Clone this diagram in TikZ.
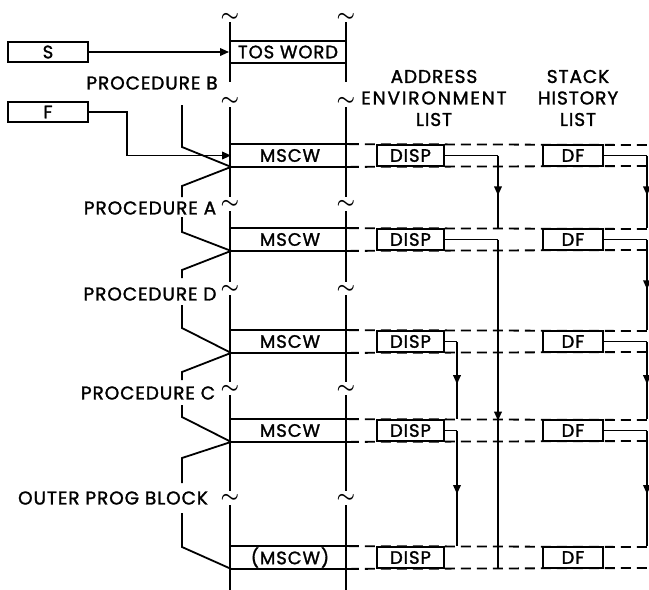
\documentclass[tikz,border=0pt]{standalone}
\usepackage{fontspec}
\setmainfont{Poppins}[LetterSpace=5,FakeBold=1.5]
\newfontfamily\widefont{Poppins}[LetterSpace=10,FakeBold=1.5]
\usetikzlibrary{arrows.meta,decorations.markings}
\begin{document}
\begin{tikzpicture}[x=1pt,y=-1pt,
  line width=1.8pt,
  tip/.style={-{Triangle[length=9pt,width=7.5pt]}},
  midtip/.style={postaction={decorate},decoration={markings,
     mark=at position 0.55 with {\arrow{Triangle[length=9pt,width=7.5pt]}}}},
  reg/.style={draw,line width=1.8pt,minimum width=80pt,minimum height=20pt,inner sep=0pt,font=\fontsize{18}{20}\selectfont},
  cell/.style={minimum width=116pt,inner sep=0pt,font=\fontsize{18}{20}\selectfont},
  fld/.style={draw,fill=white,line width=1.8pt,inner sep=0pt,font=\fontsize{18}{20}\selectfont},
  lab/.style={inner sep=0pt,font=\fontsize{18.5}{21.5}\selectfont},
  til/.style={inner sep=0pt,font=\fontsize{20}{20}\selectfont\boldmath},
  dsh/.style={dash pattern=on 10pt off 6pt}]
\useasboundingbox (0,0) rectangle (649,590);

% registers
\node[reg] (S) at (48,52) {S};
\node[reg] (F) at (48,112) {F};

% stack vertical lines with breaks
\foreach \a/\b in {22/82,107/197,211/282,295/382,395/491,505/590}{
  \draw (230,\a) -- (230,\b);
  \draw (346,\a) -- (346,\b);
}
\foreach \y in {16,100,203,288,388,497}{
  \node[til] at (230,\y+5) {\smash{$\sim$}};
  \node[til] at (346,\y+5) {\smash{$\sim$}};
}

% TOS word cell
\node[cell,minimum height=20pt] (tos) at (288,52) {TOS WORD};
\draw (tos.north west) -- (tos.north east);
\draw (tos.south west) -- (tos.south east);

% MSCW rows
\foreach \i/\t/\b/\txt in {1/145/166/MSCW,2/229/250/MSCW,3/331/352/MSCW,4/420/441/MSCW,5/547/568/(MSCW)}{
  \pgfmathsetmacro{\h}{\b-\t}
  \pgfmathsetmacro{\m}{(\b+\t)/2}
  \node[cell,minimum height=\h pt] (m\i) at (290,\m) {\txt};
  \draw (m\i.north west) -- (m\i.north east);
  \draw (m\i.south west) -- (m\i.south east);
  \draw[dsh] (m\i.north east) -- (649,\t);
  \draw[dsh] (m\i.south east) -- (649,\b);
  \node[fld,minimum width=67pt,minimum height=\h pt] (d\i) at (410.5,\m) {DISP};
  \node[fld,minimum width=60pt,minimum height=\h pt] (f\i) at (573,\m) {DF};
}

% procedure brackets
\draw (182,105) -- (182,147) -- (m1.south west) -- (182,186) -- (182,197);
\draw (182,217) -- (182,232) -- (m2.south west) -- (182,270) -- (182,278);
\draw (182,305) -- (182,328) -- (m3.south west) -- (182,372) -- (182,380);
\draw (182,405) -- (182,417) -- (m4.south west) -- (182,458) -- (182,483);
\draw (182,513) -- (182,547) -- (m5.south west);

% register pointers
\draw[tip] (S.east) -- (tos.west);
\coordinate (fx) at (127,0);
\draw[tip] (F.east) -- (F.east -| fx) |- (m1.west);

% address environment list
\coordinate (ea) at (498,0);
\coordinate (eb) at (457,0);
\draw (d1.east) -- (d1.east -| ea);
\draw[midtip] (d1.east -| ea) -- (ea |- m2.north);
\draw (d2.east) -- (d2.east -| ea);
\draw[midtip] (d2.east -| ea) -- (ea |- m5.south);
\draw (d3.east) -- (d3.east -| eb);
\draw[midtip] (d3.east -| eb) -- (eb |- m4.north);
\draw (d4.east) -- (d4.east -| eb);
\draw[midtip] (d4.east -| eb) -- (eb |- m5.north);

% stack history list
\coordinate (ha) at (647,0);
\foreach \i/\j in {1/2,2/3,3/4,4/5}{
  \draw (f\i.east) -- (f\i.east -| ha);
  \draw[midtip] (f\i.east -| ha) -- (ha |- m\j.north);
}

% labels
\node[lab] at (152,83) {PROCEDURE B};
\node[lab] at (150,208) {PROCEDURE A};
\node[lab] at (150,294) {PROCEDURE D};
\node[lab] at (148,393) {PROCEDURE C};
\node[lab] at (113,498) {OUTER PROG BLOCK};
\node[lab,align=center] at (434,98) {ADDRESS\\{\widefont ENVIRONMENT}\\LIST};
\node[lab,align=center] at (578,98) {STACK\\HISTORY\\LIST};
\end{tikzpicture}
\end{document}
